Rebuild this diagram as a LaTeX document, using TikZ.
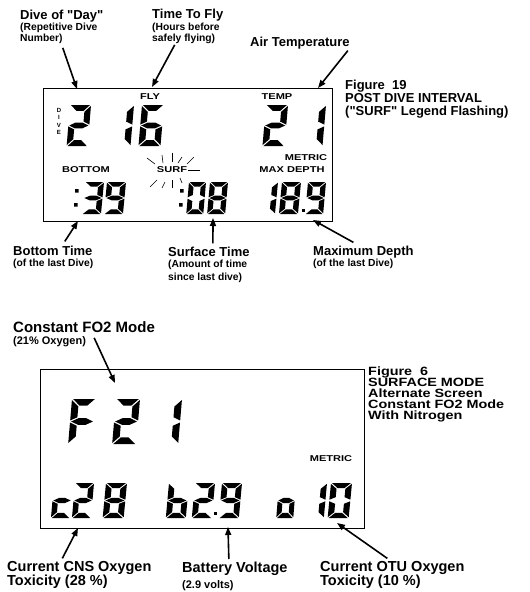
\documentclass[tikz,border=0pt]{standalone}
\usepackage{fontspec}
\setmainfont{Liberation Sans}
\newfontfamily\capfont{Liberation Sans}[FakeStretch=1.2]
\newfontfamily\lcdfont{Liberation Sans}[FakeStretch=1.3]
\usetikzlibrary{arrows.meta}

\def\lcdt{0.29}
\def\lcdg{0.045}
% one segment (a..g) of a seven segment digit, box 1 wide, 2 high
\newcommand{\lcdseg}[1]{%
  \if#1a\fill (\lcdg,0) -- (1-\lcdg,0) -- (1-\lcdt-\lcdg,\lcdt) -- (\lcdt+\lcdg,\lcdt) -- cycle;\fi
  \if#1d\fill (\lcdg,2) -- (1-\lcdg,2) -- (1-\lcdt-\lcdg,2-\lcdt) -- (\lcdt+\lcdg,2-\lcdt) -- cycle;\fi
  \if#1g\fill (\lcdg,1) -- (\lcdt+\lcdg,1-\lcdt/2) -- (1-\lcdt-\lcdg,1-\lcdt/2) -- (1-\lcdg,1)
    -- (1-\lcdt-\lcdg,1+\lcdt/2) -- (\lcdt+\lcdg,1+\lcdt/2) -- cycle;\fi
  \if#1f\fill (0,\lcdg) -- (\lcdt,\lcdt+\lcdg) -- (\lcdt,1-\lcdt/2-\lcdg) -- (0,1-\lcdg) -- cycle;\fi
  \if#1b\fill (1,\lcdg) -- (1-\lcdt,\lcdt+\lcdg) -- (1-\lcdt,1-\lcdt/2-\lcdg) -- (1,1-\lcdg) -- cycle;\fi
  \if#1e\fill (0,1+\lcdg) -- (\lcdt,1+\lcdt/2+\lcdg) -- (\lcdt,2-\lcdt-\lcdg) -- (0,2-\lcdg) -- cycle;\fi
  \if#1c\fill (1,1+\lcdg) -- (1-\lcdt,1+\lcdt/2+\lcdg) -- (1-\lcdt,2-\lcdt-\lcdg) -- (1,2-\lcdg) -- cycle;\fi}
% digit: top left x, y, width, height, segments
\newcommand{\lcddigit}[5]{%
  \begin{scope}[shift={(#1,#2)},xscale=#3,yscale=#4/2,xslant=0.08]
    \foreach \s in {#5} {\lcdseg{\s}}
  \end{scope}}

\begin{document}
\begin{tikzpicture}[x=1pt,y=-1pt]
	 \tikzstyle{head}=[font=\bfseries\fontsize{13}{13}\selectfont,inner sep=0pt,anchor=base west]
	 \tikzstyle{big}=[font=\bfseries\fontsize{14.5}{14.5}\selectfont,inner sep=0pt,anchor=base west]
	 \tikzstyle{sub}=[font=\bfseries\fontsize{10.3}{10.3}\selectfont,inner sep=0pt,anchor=base west]
	 \tikzstyle{bigsub}=[font=\bfseries\fontsize{11}{11}\selectfont,inner sep=0pt,anchor=base west]
	 \tikzstyle{caption}=[font=\bfseries\fontsize{13}{13}\selectfont,inner sep=0pt,anchor=base west]
	 \tikzstyle{narrowcap}=[font=\capfont\bfseries\fontsize{12}{12}\selectfont,inner sep=0pt,anchor=base west]
	 \tikzstyle{lcd}=[font=\lcdfont\bfseries\fontsize{8.5}{8.5}\selectfont,inner sep=0pt]
	 \tikzstyle{pointer}=[draw,line width=1.6pt,-{Triangle[length=8pt,width=6pt]}]
	 \tikzstyle{ray}=[draw,line width=0.6pt]
	 \tikzstyle{screen}=[draw,line width=0.8pt]
	 \useasboundingbox (0,0) rectangle (530,592);

	 % post dive interval screen
	 \draw[screen] (43,88) rectangle (332,221);
	 \node[head] (dive) at (20,19) {Dive of \textquotedbl Day\textquotedbl};
	 \node[sub] (divesub1) at (20,30.5) {(Repetitive Dive};
	 \node[sub] (divesub2) at (20,41.5) {Number)};
	 \node[head] (fly) at (152,18.5) {Time To Fly};
	 \node[sub] (flysub1) at (152,30) {(Hours before};
	 \node[sub] (flysub2) at (152,41.5) {safely flying)};
	 \node[head] (air) at (250,46.7) {Air Temperature};
	 \node[caption] (fig19a) at (345,89) {Figure\ \ 19};
	 \node[caption] (fig19b) at (345,102) {POST DIVE INTERVAL};
	 \node[caption] (fig19c) at (345,115) {(\textquotedbl SURF\textquotedbl\ Legend Flashing)};

	 \node[lcd] (flylcd) at (150,97) {FLY};
	 \node[lcd] (templcd) at (277,97) {TEMP};
	 \node[lcd] (metric1) at (306,158) {METRIC};
	 \node[lcd] (bottomlcd) at (86,170) {BOTTOM};
	 \node[lcd] (surf) at (172,170) {SURF};
	 \node[lcd] (maxdepth) at (292,170) {MAX DEPTH};
	 \foreach \l/\y in {D/110,I/117.5,V/125,E/132.5}
	   \node[font=\bfseries\fontsize{6}{6}\selectfont,inner sep=0pt] (dive\l) at (59,\y) {\l};
	 % flashing marks round SURF
	 \foreach \xa/\ya/\xb/\yb in {147/158/155/164, 162/155/163/163, 172/153/172/162,
	     182/157/178/163, 194/157/187/164, 188/170/200/170, 150/187/157/180,
	     162/188/165/182, 172/188/172/180, 180/178/182/183}
	   \draw[ray] (\xa,\ya) -- (\xb,\yb);

	 \lcddigit{70}{105}{21}{41}{a,b,g,e,d}
	 \lcddigit{112}{105}{22}{41}{b,c}
	 \lcddigit{142}{105}{22}{41}{a,f,g,e,d,c}
	 \lcddigit{266}{105}{22}{41}{a,b,g,e,d}
	 \lcddigit{304}{105}{22}{41}{b,c}
	 \fill (75,189) rectangle +(3.5,3.5) (74,203) rectangle +(3.5,3.5);
	 \lcddigit{85}{182}{19}{32}{a,b,g,c,d}
	 \lcddigit{107}{182}{19}{32}{a,b,f,g,c,d}
	 \fill (180,189) rectangle +(3.5,3.5) (179,203) rectangle +(3.5,3.5);
	 \lcddigit{189}{182}{17}{32}{a,b,c,d,e,f}
	 \lcddigit{210}{182}{18}{32}{a,b,c,d,e,f,g}
	 \lcddigit{259}{182}{19}{32}{b,c}
	 \lcddigit{282}{182}{19}{32}{a,b,c,d,e,f,g}
	 \fill (301.5,209) rectangle +(3,3);
	 \lcddigit{308}{182}{18}{32}{a,b,f,g,c,d}

	 \node[head] (bottomtime) at (13,255) {Bottom Time};
	 \node[sub] (bottomsub) at (13,266.5) {(of the last Dive)};
	 \node[head] (surftime) at (168,256) {Surface Time};
	 \node[sub] (surfsub1) at (168,267.5) {(Amount of time};
	 \node[sub] (surfsub2) at (168,280) {since last dive)};
	 \node[head] (maxdepthlbl) at (313,255) {Maximum Depth};
	 \node[sub] (maxdepthsub) at (313,266.5) {(of the last Dive)};

	 \coordinate (divetip) at (77,89);
	 \coordinate (flytip) at (152,87);
	 \coordinate (airtip) at (318,88);
	 \coordinate (bottomtip) at (78,221);
	 \coordinate (surftip) at (213,218);
	 \coordinate (depthtip) at (313,220);
	 \draw[pointer] ([yshift=-4pt]divesub2.south east) -- (divetip);
	 \draw[pointer] ([xshift=-9pt,yshift=-1pt]flysub2.south) -- (flytip);
	 \draw[pointer] ([xshift=-2pt,yshift=-1pt]air.south east) -- (airtip);
	 \draw[pointer] ([xshift=12pt,yshift=4pt]bottomtime.north) -- (bottomtip);
	 \draw[pointer] ([xshift=4pt,yshift=3pt]surftime.north) -- (surftip);
	 \draw[pointer] ([xshift=-10pt,yshift=3pt]maxdepthlbl.north) -- (depthtip);

	 % surface mode screen
	 \draw[screen] (40,369) rectangle (364,528);
	 \node[font=\bfseries\fontsize{15}{15}\selectfont,inner sep=0pt,anchor=base west] (fo2) at (13,332) {Constant FO2 Mode};
	 \node[bigsub] (fo2sub) at (13,344) {(21\% Oxygen)};
	 \node[narrowcap] (fig6a) at (368,375) {Figure\ \ 6};
	 \node[narrowcap] (fig6b) at (368,386) {SURFACE MODE};
	 \node[narrowcap] (fig6c) at (368,397) {Alternate Screen};
	 \node[narrowcap] (fig6d) at (368,408) {Constant FO2 Mode};
	 \node[narrowcap] (fig6e) at (368,419) {With Nitrogen};
	 \node[lcd] (metric2) at (331,459) {METRIC};

	 \lcddigit{72}{399}{24}{45}{a,f,g,e}
	 \lcddigit{116}{399}{24}{45}{a,b,g,e,d}
	 \lcddigit{158}{399}{24}{45}{b,c}
	 \lcddigit{54}{483}{19}{35}{g,e,d}
	 \lcddigit{75}{483}{19}{35}{a,b,g,e,d}
	 \lcddigit{106}{483}{21}{35}{a,b,c,d,e,f,g}
	 \lcddigit{169}{483}{20}{35}{f,e,g,c,d}
	 \lcddigit{195}{483}{20}{35}{a,b,g,e,d}
	 \fill (214,512) rectangle +(3,3);
	 \lcddigit{222}{483}{20}{35}{a,b,f,g,c,d}
	 \lcddigit{279}{483}{17}{35}{g,c,d,e}
	 \lcddigit{307}{483}{20}{35}{b,c}
	 \lcddigit{331}{483}{21}{35}{a,b,c,d,e,f}

	 \node[big] (cns) at (7,571.7) {Current CNS Oxygen};
	 \node[big] (cns2) at (7,585.5) {Toxicity (28 \%)};
	 \node[big] (batt) at (182,572.7) {Battery Voltage};
	 \node[bigsub] (battsub) at (182,588) {(2.9 volts)};
	 \node[big] (otu) at (320,571.7) {Current OTU Oxygen};
	 \node[big] (otu2) at (320,585.5) {Toxicity (10 \%)};

	 \coordinate (fo2tip) at (115,383);
	 \coordinate (cnstip) at (78,528);
	 \coordinate (batttip) at (228,527);
	 \coordinate (otutip) at (337,523);
	 \draw[pointer] ([xshift=8pt,yshift=-2pt]fo2sub.north east) -- (fo2tip);
	 \draw[pointer] ([xshift=-17pt,yshift=3pt]cns.north) -- (cnstip);
	 \draw[pointer] ([xshift=-6pt,yshift=3pt]batt.north) -- (batttip);
	 \draw[pointer] ([xshift=-5pt,yshift=3pt]otu.north) -- (otutip);
\end{tikzpicture}
\end{document}
